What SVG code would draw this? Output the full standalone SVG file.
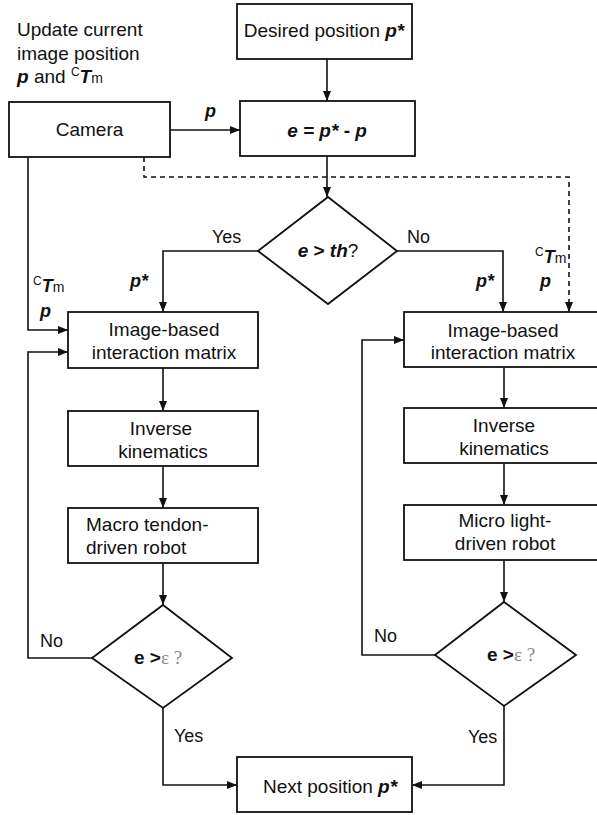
<svg xmlns="http://www.w3.org/2000/svg" width="597" height="815" viewBox="0 0 597 815">
<style>
text{font-family:"Liberation Sans",Arial,sans-serif;font-size:19px;fill:#111}
.lbl{font-size:18px}
.bi{font-weight:bold;font-style:italic}
.b{font-weight:bold}
.eps{font-family:"Liberation Serif","Times New Roman",serif;fill:#888}
.box{fill:#fff;stroke:#111;stroke-width:1.8}
.ln{fill:none;stroke:#111;stroke-width:1.6}
.dash{stroke-dasharray:5 4}
</style>
<defs>
<marker id="ah" markerUnits="userSpaceOnUse" markerWidth="10" markerHeight="8" refX="10" refY="4" orient="auto">
<path d="M0,0 L10,4 L0,8 z" fill="#111"/>
</marker>
</defs>
<g id="note">
<text x="17" y="36">Update current</text>
<text x="17" y="60">image position</text>
<text x="17" y="83"><tspan class="bi">p</tspan> and <tspan font-size="12" dy="-7">C</tspan><tspan class="bi" dy="7">T</tspan><tspan font-size="14">m</tspan></text>
</g>
<g id="connectors">
<path class="ln" d="M327,59 V101" marker-end="url(#ah)"/>
<path class="ln" d="M170,130 H240" marker-end="url(#ah)"/>
<path class="ln" d="M327,156 V197" marker-end="url(#ah)"/>
<path class="ln dash" d="M144,157 V177 H569 V312" marker-end="url(#ah)"/>
<path class="ln" d="M258,251 H163 V312" marker-end="url(#ah)"/>
<path class="ln" d="M397,251 H503 V312" marker-end="url(#ah)"/>
<path class="ln" d="M28,157 V330 H68" marker-end="url(#ah)"/>
<path class="ln" d="M163,368 V411" marker-end="url(#ah)"/>
<path class="ln" d="M163,466 V508" marker-end="url(#ah)"/>
<path class="ln" d="M163,563 V605" marker-end="url(#ah)"/>
<path class="ln" d="M92,658 H28 V352 H68" marker-end="url(#ah)"/>
<path class="ln" d="M163,708 V785 H237" marker-end="url(#ah)"/>
<path class="ln" d="M504,367 V408" marker-end="url(#ah)"/>
<path class="ln" d="M504,463 V505" marker-end="url(#ah)"/>
<path class="ln" d="M504,560 V602" marker-end="url(#ah)"/>
<path class="ln" d="M435,655 H362 V340 H404" marker-end="url(#ah)"/>
<path class="ln" d="M504,706 V785 H412" marker-end="url(#ah)"/>
<text class="lbl bi" x="205" y="117">p</text>
<text class="lbl" x="212" y="243">Yes</text>
<text class="lbl bi" x="130" y="287">p*</text>
<text class="lbl" x="33" y="292"><tspan font-size="12" dy="-7">C</tspan><tspan class="bi" dy="7">T</tspan><tspan font-size="14">m</tspan></text>
<text class="lbl bi" x="40" y="317">p</text>
<text class="lbl" x="407" y="243">No</text>
<text class="lbl bi" x="476" y="287">p*</text>
<text class="lbl" x="535" y="263"><tspan font-size="12" dy="-7">C</tspan><tspan class="bi" dy="7">T</tspan><tspan font-size="14">m</tspan></text>
<text class="lbl bi" x="540" y="287">p</text>
<text class="lbl" x="40" y="647">No</text>
<text class="lbl" x="174" y="742">Yes</text>
<text class="lbl" x="374" y="642">No</text>
<text class="lbl" x="468" y="743">Yes</text>
</g>
<g id="desired">
<rect class="box" x="237" y="4" width="175" height="55"/>
<text x="324" y="37" text-anchor="middle">Desired position <tspan class="bi">p*</tspan></text>
</g>
<g id="error">
<rect class="box" x="240" y="101" width="175" height="55"/>
<text x="327" y="137" text-anchor="middle" class="bi">e = p* - p</text>
</g>
<g id="camera">
<rect class="box" x="9" y="102" width="161" height="55"/>
<text x="89.5" y="136" text-anchor="middle">Camera</text>
</g>
<g id="decision-th">
<polygon class="box" points="328,197 397,251 328,304 258,251"/>
<text x="328" y="257" text-anchor="middle"><tspan class="bi">e</tspan><tspan class="b"> &gt; </tspan><tspan class="bi">th</tspan>?</text>
</g>
<g id="ibim-left">
<rect class="box" x="68" y="312" width="190" height="56"/>
<text x="164" y="336" text-anchor="middle">Image-based</text>
<text x="164" y="359" text-anchor="middle">interaction matrix</text>
</g>
<g id="ik-left">
<rect class="box" x="68" y="411" width="190" height="55"/>
<text x="161" y="435" text-anchor="middle">Inverse</text>
<text x="163" y="458" text-anchor="middle">kinematics</text>
</g>
<g id="macro">
<rect class="box" x="68" y="508" width="190" height="55"/>
<text x="86" y="531">Macro tendon-</text>
<text x="86" y="554">driven robot</text>
</g>
<g id="decision-left">
<polygon class="box" points="163,605 232,658 163,708 92,658"/>
<text x="134" y="664"><tspan class="b">e &gt;</tspan><tspan class="eps">ε ?</tspan></text>
</g>
<g id="ibim-right">
<rect class="box" x="404" y="312" width="200" height="55"/>
<text x="503" y="337" text-anchor="middle">Image-based</text>
<text x="503" y="359" text-anchor="middle">interaction matrix</text>
</g>
<g id="ik-right">
<rect class="box" x="404" y="408" width="200" height="55"/>
<text x="504" y="432" text-anchor="middle">Inverse</text>
<text x="504" y="455" text-anchor="middle">kinematics</text>
</g>
<g id="micro">
<rect class="box" x="404" y="505" width="200" height="55"/>
<text x="505" y="527" text-anchor="middle">Micro light-</text>
<text x="505" y="550" text-anchor="middle">driven robot</text>
</g>
<g id="decision-right">
<polygon class="box" points="504,602 576,655 504,706 435,655"/>
<text x="487" y="661"><tspan class="b">e &gt;</tspan><tspan class="eps">ε ?</tspan></text>
</g>
<g id="next">
<rect class="box" x="237" y="757" width="175" height="55"/>
<text x="330" y="793" text-anchor="middle">Next position <tspan class="bi">p*</tspan></text>
</g>
</svg>
